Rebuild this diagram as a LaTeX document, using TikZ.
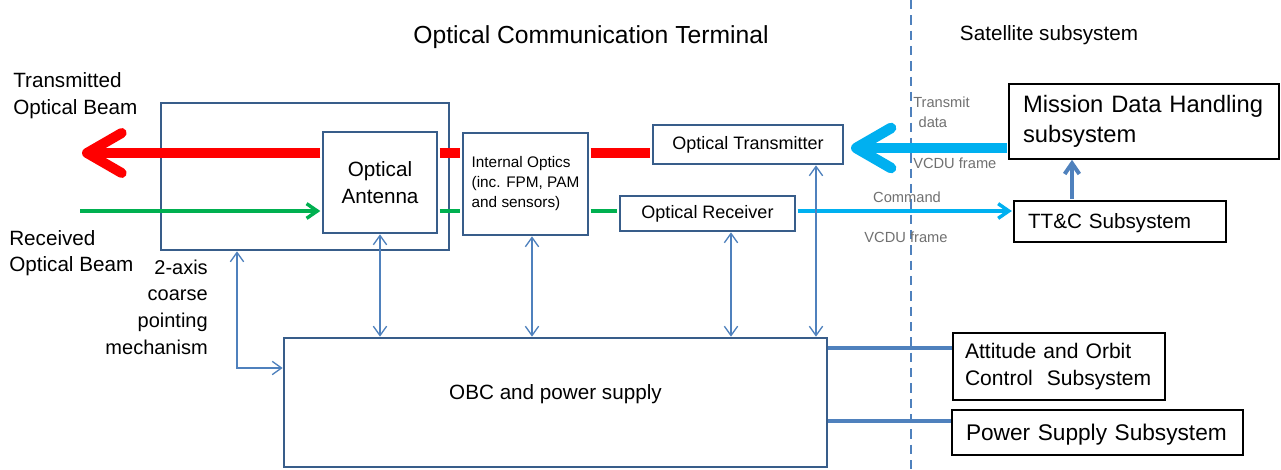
\documentclass[tikz,border=0pt]{standalone}
\usepackage{fontspec}
\setmainfont{Liberation Sans}
\usetikzlibrary{arrows.meta,positioning,calc}
\definecolor{boxblue}{RGB}{56,93,138}
\definecolor{linkblue}{RGB}{79,129,189}
\definecolor{beamred}{RGB}{255,0,0}
\definecolor{beamgreen}{RGB}{0,176,80}
\definecolor{datacyan}{RGB}{0,176,240}
\definecolor{notegray}{RGB}{112,112,112}

\begin{document}
\begin{tikzpicture}[x=0.75pt, y=-0.75pt,
    unit/.style={draw=boxblue, line width=2pt, inner sep=0pt, align=center},
    subsys/.style={draw=black, line width=1.2pt, inner ysep=0pt, inner xsep=10.5pt, align=left},
    sig/.style={linkblue, line width=1pt, >={Straight Barb[length=7pt,width=10pt]}},
    note/.style={notegray, inner sep=0pt, font=\fontsize{11}{15}\selectfont},
    big/.style={font=\fontsize{15.5}{20}\selectfont}]
  \useasboundingbox (0,0) rectangle (1281,470);

  % headings
  \node[font=\fontsize{18.5}{22}\selectfont] (octitle) at (591,37) {Optical Communication Terminal};
  \node[big] (sattitle) at (1049,35) {Satellite subsystem};
  \draw[linkblue, line width=0.8pt, dash pattern=on 7pt off 4.5pt] (911,0) -- (911,470);

  % terminal units
  \node[unit, minimum width=216pt, minimum height=110.25pt] (gimbal) at (305,176.5) {};
  \node[unit, big, minimum width=85.5pt, minimum height=75.75pt] (antenna) at (380,182.5) {Optical\\Antenna};
  \node[unit, align=left, font=\fontsize{11.5}{15}\selectfont, minimum width=93.75pt, minimum height=76.5pt] (intopt) at (525.5,184) {Internal Optics\\(inc. FPM, PAM\\and sensors)};
  \node[unit, font=\fontsize{13.5}{16}\selectfont, minimum width=142.5pt, minimum height=29.25pt] (tx) at (748,144.5) {Optical Transmitter};
  \node[unit, font=\fontsize{13.5}{16}\selectfont, minimum width=131.25pt, minimum height=26.25pt] (rx) at (707.5,213.5) {Optical Receiver};
  \node[unit, big, minimum width=407.25pt, minimum height=96.75pt] (obc) at (555.5,402.5) {OBC and power supply\\[-4pt]\mbox{}};

  % satellite subsystems
  \node[subsys, font=\fontsize{17.8}{22.5}\selectfont, text width=181.5pt, minimum height=56.25pt] (mdh) at (1144,121.5) {Mission Data Handling\\subsystem};
  \node[subsys, big, text depth=0pt, text width=138pt, minimum height=30.75pt] (ttc) at (1120,221.5) {TT\&C Subsystem};
  \node[subsys, font=\fontsize{15.8}{20}\selectfont, inner xsep=9pt, text width=141pt, minimum height=50.25pt] (aocs) at (1059,366.5) {Attitude and Orbit\\Control\ \ Subsystem};
  \node[subsys, font=\fontsize{17}{20}\selectfont, text depth=0pt, text width=197.25pt, minimum height=33.75pt] (pss) at (1097.5,432.5) {Power Supply Subsystem};

  % side labels
  \node[big, anchor=west, align=left, inner sep=0pt] (txlabel) at (13,95.5) {Transmitted\\Optical Beam};
  \node[big, anchor=west, align=left, inner sep=0pt] (rxlabel) at (9,253) {Received\\Optical Beam};
  \node[font=\fontsize{15}{20}\selectfont, anchor=east, align=right, inner sep=0pt] (cpm) at (208,307) {2-axis\\coarse\\pointing\\mechanism};

  \coordinate (txout) at (82,153);
  \coordinate (rxin) at (80,211);
  \coordinate (redlvl) at (0,153);
  \coordinate (grnlvl) at (0,211);
  \coordinate (cyanlvl) at (0,148);
  \coordinate (aocslvl) at (0,348);
  \coordinate (psslvl) at (0,421);
  \coordinate (gimbx) at (237,368);
  \coordinate (iox) at (532,0);
  \coordinate (rxx) at (731,0);
  \coordinate (txx) at (816,0);
  \coordinate (ttcx) at (1072,0);

  % optical beams
  \draw[beamred, line width=7.5pt, shorten <=1pt, -{Straight Barb[length=26pt,width=30pt,round]}] (antenna.west |- redlvl) -- (txout);
  \draw[beamred, line width=7.5pt, shorten <=1pt, shorten >=1pt] (antenna.east |- redlvl) -- (intopt.west |- redlvl);
  \draw[beamred, line width=7.5pt, shorten <=1pt, shorten >=1pt] (intopt.east |- redlvl) -- (tx.west |- redlvl);
  \draw[beamgreen, line width=2.6pt, shorten >=1pt, -{Straight Barb[length=8pt,width=11pt]}] (rxin) -- (antenna.west |- grnlvl);
  \draw[beamgreen, line width=2.6pt, shorten <=1pt, shorten >=1pt] (antenna.east |- grnlvl) -- (intopt.west |- grnlvl);
  \draw[beamgreen, line width=2.6pt, shorten <=1pt, shorten >=1pt] (intopt.east |- grnlvl) -- (rx.west |- grnlvl);

  % data links
  \draw[datacyan, line width=8pt, shorten <=1pt, shorten >=5pt, -{Straight Barb[length=26pt,width=30pt,round]}] (mdh.west |- cyanlvl) -- (tx.east |- cyanlvl);
  \draw[datacyan, line width=2.6pt, shorten <=1pt, shorten >=1pt, -{Straight Barb[length=8pt,width=11pt]}] (rx.east |- grnlvl) -- (ttc.west |- grnlvl);
  \draw[linkblue, line width=3pt, shorten <=1pt, -{Straight Barb[length=8pt,width=11pt]}] (ttcx |- ttc.north) -- (ttcx |- mdh.south);
  \node[note, anchor=west, align=left] (txdata) at (913,112) {Transmit\\\hspace{4pt}data};
  \node[note, anchor=west] (vcdu1) at (913,163) {VCDU frame};
  \node[note] (cmd) at (907,197) {Command};
  \node[note] (vcdu2) at (906,237) {VCDU frame};

  % control links
  \draw[sig, <->] (antenna.south) -- (antenna.south |- obc.north);
  \draw[sig, <->] (iox |- intopt.south) -- (iox |- obc.north);
  \draw[sig, <->] (rxx |- rx.south) -- (rxx |- obc.north);
  \draw[sig, <->] (txx |- tx.south) -- (txx |- obc.north);
  \draw[sig, <->] (gimbx |- gimbal.south) |- (obc.west |- gimbx);
  \draw[linkblue, line width=2.6pt] (obc.east |- aocslvl) -- (aocs.west |- aocslvl);
  \draw[linkblue, line width=2.6pt] (obc.east |- psslvl) -- (pss.west |- psslvl);
\end{tikzpicture}
\end{document}
